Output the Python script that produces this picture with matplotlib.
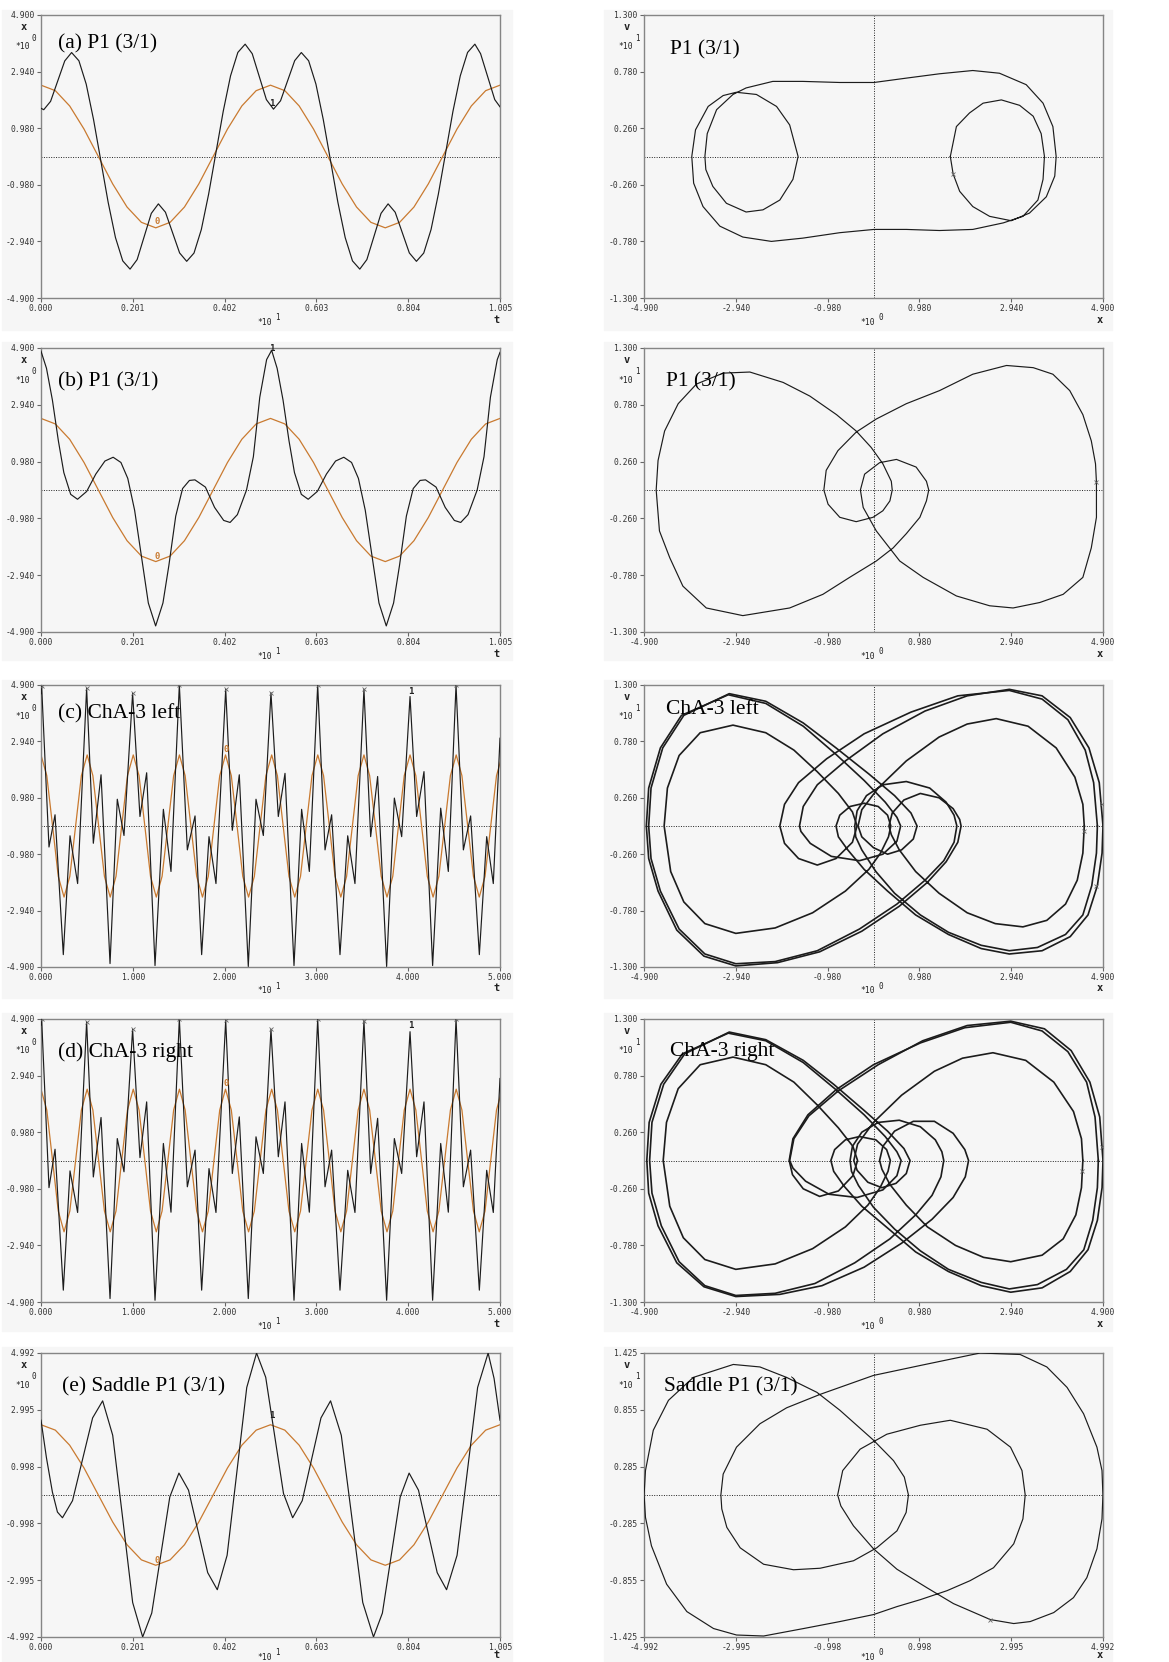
import numpy as np
import matplotlib
matplotlib.use('Agg')
import matplotlib.pyplot as plt
from matplotlib.patches import Rectangle

# ---- time series, t in units of 10 ----
ta = [0.000, 0.006, 0.021, 0.0365, 0.052, 0.067, 0.083, 0.099, 0.115, 0.131, 0.147, 0.163, 0.179, 0.195,
      0.2105, 0.226, 0.2415, 0.257, 0.2725, 0.288, 0.3035, 0.319, 0.335, 0.351, 0.367, 0.383, 0.399, 0.415,
      0.431, 0.447, 0.4625, 0.478, 0.4935, 0.509, 0.5245, 0.540, 0.5555, 0.570, 0.586, 0.602, 0.618, 0.634,
      0.650, 0.666, 0.682, 0.698, 0.7135, 0.729, 0.7445, 0.760, 0.7755, 0.791, 0.8065, 0.822, 0.838, 0.854,
      0.870, 0.886, 0.902, 0.918, 0.934, 0.950, 0.9625, 0.978, 0.9935, 1.005]
xa = [1.67, 1.62, 1.91, 2.61, 3.31, 3.60, 3.315, 2.505, 1.283, -0.15, -1.583, -2.805, -3.615, -3.90,
      -3.57, -2.77, -1.97, -1.64, -1.93, -2.635, -3.34, -3.63, -3.344, -2.532, -1.306, 0.13, 1.566, 2.792,
      3.604, 3.89, 3.56, 2.765, 1.97, 1.64, 1.93, 2.625, 3.32, 3.60, 3.315, 2.505, 1.283, -0.15,
      -1.583, -2.805, -3.615, -3.90, -3.57, -2.77, -1.97, -1.64, -1.93, -2.635, -3.34, -3.63, -3.344, -2.532,
      -1.306, 0.13, 1.566, 2.792, 3.604, 3.89, 3.56, 2.765, 1.97, 1.72]

tb = [0.000, 0.012, 0.025, 0.038, 0.050, 0.065, 0.080, 0.100, 0.120, 0.140, 0.158, 0.175, 0.190, 0.205,
      0.220, 0.235, 0.251, 0.267, 0.280, 0.295, 0.310, 0.325, 0.337, 0.360, 0.380, 0.400, 0.414, 0.430,
      0.450, 0.465, 0.479, 0.494, 0.505, 0.517, 0.530, 0.543, 0.555, 0.570, 0.585, 0.605, 0.625, 0.645,
      0.663, 0.680, 0.695, 0.710, 0.725, 0.740, 0.756, 0.772, 0.785, 0.800, 0.815, 0.830, 0.842, 0.865,
      0.885, 0.905, 0.919, 0.935, 0.955, 0.970, 0.984, 0.999, 1.005]
xb = [4.79, 4.2, 3.1, 1.7, 0.6, -0.15, -0.32, -0.05, 0.55, 1.0, 1.13, 0.95, 0.4, -0.7,
      -2.3, -3.9, -4.69, -3.9, -2.6, -0.9, 0.05, 0.33, 0.35, 0.1, -0.6, -1.05, -1.12, -0.85,
      0.0, 1.15, 3.2, 4.5, 4.82, 4.2, 3.1, 1.7, 0.6, -0.15, -0.32, -0.05, 0.55, 1.0,
      1.13, 0.95, 0.4, -0.7, -2.3, -3.9, -4.69, -3.9, -2.6, -0.9, 0.05, 0.33, 0.35, 0.1,
      -0.6, -1.05, -1.12, -0.85, 0.0, 1.15, 3.2, 4.5, 4.75]

t_cha = [0.000, 0.007, 0.087, 0.153, 0.243, 0.316, 0.399, 0.497, 0.570, 0.654, 0.752, 0.831, 0.904, 0.998,
         1.078, 1.151, 1.242, 1.333, 1.416, 1.507, 1.594, 1.678, 1.750, 1.830, 1.906, 2.012, 2.084, 2.160,
         2.258, 2.342, 2.422, 2.505, 2.585, 2.658, 2.756, 2.839, 2.923, 3.014, 3.094, 3.166, 3.257, 3.341,
         3.420, 3.518, 3.591, 3.667, 3.765, 3.849, 3.929, 4.020, 4.092, 4.172, 4.266, 4.354, 4.437, 4.521,
         4.601, 4.680, 4.775, 4.855, 4.927, 5.000]
xc = [4.6, 4.85, -0.73, 0.39, -4.47, -0.34, -2.0, 4.78, -0.6, 1.78, -4.78, 0.93, -0.33, 4.61,
      0.33, 1.85, -4.85, 0.58, -1.58, 4.9, -0.83, 0.35, -4.47, -0.37, -2.0, 4.75, -0.15, 1.78,
      -4.88, 0.93, -0.33, 4.63, 0.33, 1.83, -4.85, 0.58, -1.58, 4.9, -0.83, 0.39, -4.47, -0.34,
      -2.0, 4.75, -0.37, 1.72, -4.88, 0.97, -0.37, 4.5, 0.33, 1.89, -4.85, 0.62, -1.58, 4.9,
      -0.83, 0.35, -4.47, -0.37, -2.0, 3.05]
xd = [4.7, 4.9, -0.94, 0.39, -4.49, -0.36, -1.8, 4.8, -0.57, 1.49, -4.78, 0.76, -0.39, 4.54,
      0.1, 2.03, -4.84, 0.59, -1.79, 4.9, -0.91, 0.36, -4.49, -0.28, -1.8, 4.85, -0.45, 1.51,
      -4.78, 0.82, -0.45, 4.54, 0.13, 2.03, -4.84, 0.59, -1.79, 4.9, -0.91, 0.36, -4.49, -0.34,
      -1.8, 4.84, -0.45, 1.46, -4.84, 0.76, -0.45, 4.46, 0.13, 2.03, -4.84, 0.59, -1.79, 4.9,
      -0.91, 0.36, -4.49, -0.34, -1.8, 2.84]

te = [0.000, 0.012, 0.025, 0.036, 0.047, 0.069, 0.091, 0.113, 0.135, 0.157, 0.179, 0.2007, 0.2226,
      0.2425, 0.2623, 0.282, 0.302, 0.323, 0.344, 0.365, 0.386, 0.4075, 0.429, 0.4505, 0.472, 0.492,
      0.5115, 0.531, 0.551, 0.572, 0.5925, 0.613, 0.634, 0.6575, 0.681, 0.7045, 0.728, 0.7475, 0.767,
      0.7865, 0.806, 0.8265, 0.847, 0.8675, 0.888, 0.911, 0.9335, 0.956, 0.979, 0.992, 1.005]
xe = [2.63, 1.3, 0.1, -0.6, -0.80, -0.20, 1.255, 2.71, 3.31, 2.10, -0.84, -3.78, -4.99,
      -4.15, -2.11, -0.07, 0.77, 0.17, -1.28, -2.73, -3.33, -2.12, 0.83, 3.78, 4.99, 4.14,
      2.095, 0.05, -0.80, -0.20, 1.255, 2.71, 3.31, 2.10, -0.84, -3.78, -4.99, -4.15, -2.11,
      -0.07, 0.77, 0.17, -1.28, -2.73, -3.33, -2.12, 0.83, 3.78, 4.99, 4.1, 2.63]

# forcing (orange), one window of two periods and one of ten periods
t_frc2 = [0.0000, 0.0314, 0.0628, 0.0942, 0.1256, 0.1570, 0.1884, 0.2198, 0.2513, 0.2827, 0.3141,
          0.3455, 0.3769, 0.4083, 0.4397, 0.4711, 0.5025, 0.5339, 0.5653, 0.5967, 0.6281, 0.6595,
          0.6909, 0.7223, 0.7538, 0.7852, 0.8166, 0.8480, 0.8794, 0.9108, 0.9422, 0.9736, 1.0050]
f_frc2 = [2.47, 2.28, 1.75, 0.95, 0.0, -0.95, -1.75, -2.28, -2.47, -2.28, -1.75,
          -0.95, 0.0, 0.95, 1.75, 2.28, 2.47, 2.28, 1.75, 0.95, 0.0, -0.95,
          -1.75, -2.28, -2.47, -2.28, -1.75, -0.95, 0.0, 0.95, 1.75, 2.28, 2.47]
t_frc10 = [0.000, 0.063, 0.126, 0.188, 0.251, 0.314, 0.377, 0.440, 0.503, 0.565, 0.628, 0.691,
           0.754, 0.817, 0.879, 0.942, 1.005, 1.068, 1.131, 1.193, 1.256, 1.319, 1.382, 1.445,
           1.508, 1.570, 1.633, 1.696, 1.759, 1.822, 1.884, 1.947, 2.010, 2.073, 2.136, 2.198,
           2.261, 2.324, 2.387, 2.450, 2.513, 2.575, 2.638, 2.701, 2.764, 2.827, 2.889, 2.952,
           3.015, 3.078, 3.141, 3.203, 3.266, 3.329, 3.392, 3.455, 3.518, 3.580, 3.643, 3.706,
           3.769, 3.832, 3.894, 3.957, 4.020, 4.083, 4.146, 4.208, 4.271, 4.334, 4.397, 4.460,
           4.523, 4.585, 4.648, 4.711, 4.774, 4.837, 4.899, 4.962, 5.025]
f_frc10 = [2.47, 1.75, 0.0, -1.75, -2.47, -1.75, 0.0, 1.75,
           2.47, 1.75, 0.0, -1.75, -2.47, -1.75, 0.0, 1.75,
           2.47, 1.75, 0.0, -1.75, -2.47, -1.75, 0.0, 1.75,
           2.47, 1.75, 0.0, -1.75, -2.47, -1.75, 0.0, 1.75,
           2.47, 1.75, 0.0, -1.75, -2.47, -1.75, 0.0, 1.75,
           2.47, 1.75, 0.0, -1.75, -2.47, -1.75, 0.0, 1.75,
           2.47, 1.75, 0.0, -1.75, -2.47, -1.75, 0.0, 1.75,
           2.47, 1.75, 0.0, -1.75, -2.47, -1.75, 0.0, 1.75,
           2.47, 1.75, 0.0, -1.75, -2.47, -1.75, 0.0, 1.75,
           2.47, 1.75, 0.0, -1.75, -2.47, -1.75, 0.0, 1.75,
           2.47]

# ---- phase portraits (x, v), v in units of 10 ----
pa = [(1.64, 0.0), (1.77, 0.275), (2.05, 0.40), (2.34, 0.49), (2.73, 0.52), (3.12, 0.47), (3.41, 0.37),
      (3.58, 0.21), (3.65, 0.0), (3.62, -0.21), (3.51, -0.40), (3.19, -0.55), (2.77, -0.61), (2.12, -0.67),
      (1.41, -0.68), (0.70, -0.67), (0.01, -0.67), (-0.72, -0.70), (-1.51, -0.75), (-2.18, -0.78),
      (-2.79, -0.74), (-3.28, -0.64), (-3.64, -0.46), (-3.84, -0.245), (-3.88, 0.0), (-3.80, 0.245),
      (-3.53, 0.46), (-3.21, 0.56), (-2.93, 0.59), (-2.50, 0.57), (-2.07, 0.46), (-1.79, 0.29), (-1.61, 0.0),
      (-1.72, -0.21), (-2.00, -0.40), (-2.36, -0.49), (-2.72, -0.51), (-3.14, -0.43), (-3.43, -0.275),
      (-3.58, -0.12), (-3.60, 0.0), (-3.55, 0.21), (-3.35, 0.43), (-3.00, 0.57), (-2.72, 0.63), (-2.15, 0.69),
      (-1.51, 0.69), (-0.72, 0.68), (0.01, 0.68), (0.70, 0.72), (1.41, 0.76), (2.12, 0.79), (2.69, 0.765),
      (3.26, 0.66), (3.62, 0.49), (3.83, 0.275), (3.90, 0.0), (3.87, -0.18), (3.69, -0.37), (3.33, -0.52),
      (2.94, -0.59), (2.48, -0.55), (2.12, -0.46), (1.84, -0.32), (1.70, -0.16), (1.64, 0.0)]

pb = [(4.76, 0.07), (4.76, -0.25), (4.65, -0.53), (4.47, -0.80), (4.05, -0.955), (3.55, -1.03), (2.98, -1.08),
      (2.48, -1.06), (1.77, -0.97), (1.06, -0.80), (0.56, -0.65), (0.06, -0.375), (-0.22, -0.16), (-0.28, 0.0),
      (-0.19, 0.145), (0.13, 0.25), (0.49, 0.28), (0.91, 0.21), (1.13, 0.08), (1.18, 0.0), (1.13, -0.10),
      (0.99, -0.25), (0.70, -0.40), (0.42, -0.53), (0.06, -0.65), (-0.51, -0.80), (-1.08, -0.955),
      (-1.79, -1.08), (-2.79, -1.15), (-3.57, -1.08), (-4.07, -0.88), (-4.35, -0.62), (-4.57, -0.375),
      (-4.64, 0.0), (-4.60, 0.27), (-4.46, 0.54), (-4.17, 0.79), (-3.78, 0.97), (-3.21, 1.07), (-2.64, 1.08),
      (-1.93, 0.985), (-1.36, 0.86), (-0.79, 0.69), (-0.37, 0.54), (-0.05, 0.39), (0.20, 0.24), (0.38, 0.08),
      (0.40, 0.0), (0.35, -0.10), (0.20, -0.19), (-0.01, -0.25), (-0.37, -0.29), (-0.72, -0.25), (-0.97, -0.13),
      (-1.06, 0.0), (-1.01, 0.18), (-0.76, 0.36), (-0.37, 0.53), (0.06, 0.65), (0.70, 0.79), (1.41, 0.91),
      (2.12, 1.06), (2.84, 1.14), (3.41, 1.12), (3.83, 1.06), (4.19, 0.91), (4.47, 0.69), (4.65, 0.45),
      (4.74, 0.24), (4.76, 0.07)]

# ChA-3 left: three recurring loops of one forcing period each
pc_loops = [
    [(4.9, 0.0), (4.88, -0.25), (4.78, -0.55), (4.58, -0.82), (4.2, -1.02), (3.6, -1.15), (2.9, -1.18),
     (2.3, -1.13), (1.6, -1.0), (0.9, -0.82), (0.3, -0.6), (-0.2, -0.40), (-0.55, -0.22), (-0.75, -0.1),
     (-0.80, 0.0), (-0.72, 0.1), (-0.5, 0.18), (-0.2, 0.21), (0.1, 0.18), (0.3, 0.1), (0.37, 0.0),
     (0.32, -0.1), (0.15, -0.25), (-0.1, -0.40), (-0.6, -0.60), (-1.3, -0.80), (-2.1, -0.94), (-2.94, -0.99),
     (-3.6, -0.90), (-4.05, -0.70), (-4.33, -0.42), (-4.47, 0.0), (-4.4, 0.35), (-4.15, 0.65), (-3.7, 0.86),
     (-3.0, 0.93), (-2.3, 0.86), (-1.7, 0.7), (-1.2, 0.5), (-0.75, 0.3), (-0.45, 0.13), (-0.35, 0.0),
     (-0.45, -0.15), (-0.8, -0.3), (-1.2, -0.36), (-1.6, -0.3), (-1.9, -0.16), (-2.0, 0.0), (-1.9, 0.2),
     (-1.6, 0.4), (-1.0, 0.62), (-0.2, 0.85), (0.8, 1.05), (1.8, 1.2), (2.9, 1.25), (3.6, 1.17), (4.15, 0.98),
     (4.52, 0.7), (4.7, 0.4), (4.78, 0.0)],
    [(4.78, 0.0), (4.76, -0.25), (4.66, -0.55), (4.47, -0.82), (4.1, -1.0), (3.5, -1.12), (2.9, -1.15),
     (2.3, -1.1), (1.6, -0.98), (1.0, -0.82), (0.45, -0.62), (0.05, -0.42), (-0.25, -0.22), (-0.38, -0.1),
     (-0.40, 0.0), (-0.35, 0.14), (-0.15, 0.28), (0.2, 0.38), (0.7, 0.41), (1.2, 0.35), (1.55, 0.22),
     (1.72, 0.1), (1.78, 0.0), (1.72, -0.15), (1.5, -0.32), (1.1, -0.5), (0.5, -0.72), (-0.3, -0.95),
     (-1.2, -1.15), (-2.1, -1.25), (-2.94, -1.27), (-3.6, -1.18), (-4.15, -0.95), (-4.55, -0.6), (-4.75, -0.3),
     (-4.8, 0.0), (-4.75, 0.35), (-4.5, 0.72), (-4.05, 1.02), (-3.08, 1.22), (-2.3, 1.15), (-1.5, 0.95),
     (-0.8, 0.72), (-0.1, 0.48), (0.45, 0.28), (0.8, 0.12), (0.93, 0.0), (0.85, -0.12), (0.6, -0.22),
     (0.3, -0.26), (0.0, -0.2), (-0.25, -0.1), (-0.33, 0.0), (-0.25, 0.15), (0.1, 0.35), (0.7, 0.6),
     (1.4, 0.82), (2.0, 0.94), (2.62, 0.99), (3.3, 0.92), (3.9, 0.72), (4.3, 0.45), (4.47, 0.2), (4.5, 0.0)],
    [(4.5, 0.0), (4.47, -0.25), (4.35, -0.5), (4.1, -0.72), (3.7, -0.87), (3.19, -0.93), (2.6, -0.9),
     (2.0, -0.8), (1.4, -0.62), (0.9, -0.42), (0.55, -0.22), (0.38, -0.08), (0.33, 0.0), (0.4, 0.12),
     (0.65, 0.24), (1.0, 0.3), (1.4, 0.26), (1.7, 0.16), (1.84, 0.06), (1.87, 0.0), (1.8, -0.15),
     (1.55, -0.33), (1.15, -0.52), (0.55, -0.74), (-0.25, -0.97), (-1.15, -1.16), (-2.05, -1.26),
     (-2.94, -1.29), (-3.62, -1.2), (-4.2, -0.96), (-4.6, -0.6), (-4.8, -0.3), (-4.85, 0.0), (-4.8, 0.35),
     (-4.55, 0.72), (-4.1, 1.02), (-3.1, 1.21), (-2.3, 1.13), (-1.5, 0.92), (-0.8, 0.66), (-0.2, 0.42),
     (0.25, 0.22), (0.5, 0.08), (0.58, 0.0), (0.5, -0.14), (0.2, -0.26), (-0.3, -0.32), (-0.9, -0.28),
     (-1.35, -0.16), (-1.55, -0.05), (-1.58, 0.0), (-1.5, 0.18), (-1.2, 0.38), (-0.6, 0.6), (0.2, 0.85),
     (1.1, 1.06), (2.0, 1.2), (2.9, 1.26), (3.6, 1.2), (4.2, 1.0), (4.6, 0.72), (4.82, 0.4), (4.9, 0.0)],
]

# ChA-3 right
pd_loops = [
    [(4.9, 0.0), (4.88, -0.25), (4.78, -0.55), (4.58, -0.82), (4.2, -1.02), (3.6, -1.17), (2.93, -1.21),
     (2.3, -1.15), (1.6, -1.02), (0.9, -0.84), (0.3, -0.62), (-0.25, -0.42), (-0.62, -0.24), (-0.85, -0.1),
     (-0.91, 0.0), (-0.83, 0.1), (-0.6, 0.19), (-0.3, 0.22), (0.05, 0.19), (0.28, 0.1), (0.36, 0.0),
     (0.31, -0.1), (0.14, -0.25), (-0.12, -0.41), (-0.6, -0.61), (-1.3, -0.81), (-2.1, -0.95), (-2.94, -1.0),
     (-3.6, -0.91), (-4.06, -0.71), (-4.35, -0.42), (-4.49, 0.0), (-4.42, 0.35), (-4.17, 0.66), (-3.7, 0.88),
     (-3.0, 0.95), (-2.3, 0.88), (-1.7, 0.72), (-1.2, 0.51), (-0.75, 0.3), (-0.44, 0.13), (-0.34, 0.0),
     (-0.44, -0.14), (-0.75, -0.28), (-1.15, -0.33), (-1.5, -0.26), (-1.73, -0.13), (-1.8, 0.0), (-1.72, 0.2),
     (-1.4, 0.42), (-0.8, 0.65), (0.0, 0.88), (1.0, 1.08), (1.95, 1.22), (2.93, 1.27), (3.6, 1.19), (4.15, 1.0),
     (4.55, 0.72), (4.73, 0.4), (4.8, 0.0)],
    [(4.8, 0.0), (4.78, -0.25), (4.68, -0.55), (4.49, -0.82), (4.12, -1.0), (3.5, -1.14), (2.9, -1.18),
     (2.3, -1.12), (1.6, -1.0), (1.0, -0.83), (0.45, -0.63), (0.0, -0.43), (-0.32, -0.23), (-0.47, -0.1),
     (-0.5, 0.0), (-0.45, 0.13), (-0.25, 0.26), (0.1, 0.35), (0.55, 0.37), (1.0, 0.31), (1.32, 0.19),
     (1.46, 0.08), (1.5, 0.0), (1.44, -0.15), (1.25, -0.32), (0.9, -0.5), (0.35, -0.72), (-0.4, -0.94),
     (-1.25, -1.13), (-2.1, -1.22), (-2.94, -1.24), (-3.6, -1.15), (-4.15, -0.93), (-4.53, -0.6), (-4.73, -0.3),
     (-4.78, 0.0), (-4.73, 0.35), (-4.48, 0.7), (-4.03, 0.98), (-3.08, 1.18), (-2.3, 1.11), (-1.5, 0.92),
     (-0.85, 0.7), (-0.2, 0.46), (0.3, 0.27), (0.65, 0.11), (0.78, 0.0), (0.7, -0.12), (0.48, -0.21),
     (0.18, -0.25), (-0.12, -0.2), (-0.35, -0.09), (-0.42, 0.0), (-0.34, 0.15), (0.0, 0.35), (0.6, 0.6),
     (1.3, 0.82), (1.9, 0.94), (2.55, 0.99), (3.25, 0.92), (3.85, 0.72), (4.27, 0.45), (4.44, 0.2), (4.47, 0.0)],
    [(4.47, 0.0), (4.44, -0.25), (4.32, -0.5), (4.05, -0.72), (3.6, -0.87), (2.93, -0.93), (2.35, -0.89),
     (1.75, -0.78), (1.15, -0.61), (0.7, -0.41), (0.35, -0.22), (0.18, -0.08), (0.13, 0.0), (0.2, 0.13),
     (0.45, 0.27), (0.85, 0.36), (1.3, 0.36), (1.7, 0.25), (1.95, 0.1), (2.03, 0.0), (1.96, -0.15),
     (1.7, -0.34), (1.25, -0.54), (0.6, -0.76), (-0.2, -0.98), (-1.1, -1.15), (-2.0, -1.23), (-2.94, -1.25),
     (-3.62, -1.16), (-4.2, -0.94), (-4.6, -0.6), (-4.8, -0.3), (-4.84, 0.0), (-4.79, 0.35), (-4.54, 0.7),
     (-4.08, 0.98), (-3.1, 1.17), (-2.3, 1.1), (-1.5, 0.9), (-0.8, 0.65), (-0.2, 0.42), (0.25, 0.22),
     (0.5, 0.08), (0.59, 0.0), (0.5, -0.14), (0.2, -0.27), (-0.35, -0.34), (-0.95, -0.31), (-1.45, -0.19),
     (-1.72, -0.07), (-1.79, 0.0), (-1.7, 0.2), (-1.38, 0.41), (-0.75, 0.64), (0.1, 0.88), (1.05, 1.1),
     (2.0, 1.24), (2.93, 1.28), (3.65, 1.21), (4.22, 1.01), (4.62, 0.72), (4.83, 0.4), (4.9, 0.0)],
]

pe = [(2.54, -1.25), (1.74, -1.09), (1.16, -0.93), (0.51, -0.745), (0.0, -0.54), (-0.435, -0.31), (-0.71, -0.11),
      (-0.78, 0.0), (-0.67, 0.245), (-0.29, 0.46), (0.29, 0.61), (1.02, 0.70), (1.67, 0.75), (2.47, 0.66),
      (2.98, 0.48), (3.23, 0.245), (3.30, 0.0), (3.25, -0.24), (3.05, -0.49), (2.61, -0.73), (2.10, -0.86),
      (1.60, -0.96), (1.02, -1.05), (0.51, -1.12), (0.0, -1.20), (-0.73, -1.27), (-1.52, -1.34), (-2.39, -1.415),
      (-2.98, -1.405), (-3.48, -1.34), (-4.06, -1.17), (-4.50, -0.895), (-4.83, -0.51), (-4.96, -0.225),
      (-4.99, 0.0), (-4.96, 0.245), (-4.79, 0.65), (-4.46, 0.95), (-3.92, 1.18), (-3.05, 1.31), (-2.47, 1.285),
      (-1.89, 1.18), (-1.23, 1.03), (-0.73, 0.85), (0.0, 0.55), (0.435, 0.345), (0.67, 0.18), (0.76, 0.0),
      (0.71, -0.175), (0.51, -0.36), (0.07, -0.53), (-0.435, -0.66), (-1.16, -0.735), (-1.74, -0.75),
      (-2.39, -0.695), (-2.90, -0.53), (-3.19, -0.325), (-3.30, -0.14), (-3.32, 0.0), (-3.27, 0.21),
      (-2.98, 0.48), (-2.47, 0.715), (-1.89, 0.875), (-1.16, 1.01), (0.0, 1.20), (1.02, 1.30), (2.32, 1.425),
      (3.19, 1.41), (3.77, 1.285), (4.21, 1.08), (4.57, 0.815), (4.86, 0.48), (4.97, 0.245), (4.99, 0.0),
      (4.97, -0.24), (4.86, -0.54), (4.64, -0.83), (4.35, -1.03), (3.92, -1.18), (3.41, -1.27), (3.05, -1.29),
      (2.54, -1.25)]

# axis ranges / ticks
x_ticks = [-4.9, -2.94, -0.98, 0.98, 2.94, 4.9]
v_ticks = [-1.3, -0.78, -0.26, 0.26, 0.78, 1.3]
xe_ticks = [-4.992, -2.995, -0.998, 0.998, 2.995, 4.992]
ve_ticks = [-1.425, -0.855, -0.285, 0.285, 0.855, 1.425]
t_ticks1 = [0.0, 0.201, 0.402, 0.603, 0.804, 1.005]
t_ticks5 = [0.0, 1.0, 2.0, 3.0, 4.0, 5.0]

left_titles = ['(a) P1 (3/1)', '(b) P1 (3/1)', '(c) ChA-3 left', '(d) ChA-3 right', '(e) Saddle P1 (3/1)']
right_titles = ['P1 (3/1)', 'P1 (3/1)', 'ChA-3 left', 'ChA-3 right', 'Saddle P1 (3/1)']

BLK = '#1c1c1c'
ORG = '#c97a30'
BG = '#f6f6f6'
MONO = 'DejaVu Sans Mono'
SERIF = 'Liberation Serif'

W, H = 1169, 1662
fig = plt.figure(figsize=(W / 100, H / 100), dpi=100)
fig.patch.set_facecolor('white')

row_px = [(15, 298), (348, 632), (685, 967), (1019, 1302), (1353, 1637)]
bg_px = [(10, 330), (342, 660), (680, 998), (1013, 1331), (1347, 1662)]
for (y0, y1) in bg_px:
    fig.patches.append(Rectangle((2 / W, 1 - y1 / H), 510 / W, (y1 - y0) / H,
                                 transform=fig.transFigure, color=BG, zorder=-10))
    fig.patches.append(Rectangle((604 / W, 1 - y1 / H), 508 / W, (y1 - y0) / H,
                                 transform=fig.transFigure, color=BG, zorder=-10))


def style(ax, xt, yt, top_lab, bot_lab, sup_left, sup_bot, yb=-0.085):
    ax.set_facecolor(BG)
    ax.set_xlim(xt[0], xt[-1])
    ax.set_ylim(min(yt), max(yt))
    ax.set_xticks(xt)
    ax.set_xticklabels(['%.3f' % v for v in xt], family=MONO)
    ax.set_yticks(yt)
    ax.set_yticklabels(['%.3f' % v for v in yt], family=MONO)
    ax.tick_params(direction='out', length=3, width=0.8, color='#666', labelcolor='#333',
                   labelsize=5.8, pad=1.5)
    for s in ax.spines.values():
        s.set_color('#858585')
        s.set_linewidth(1.0)
    kw = dict(transform=ax.transAxes, family=MONO, color='#222', clip_on=False)
    ax.text(-0.037, 0.958, top_lab, fontsize=7.5, fontweight='bold', ha='center', va='center', **kw)
    ax.text(-0.040, 0.887, '*10', fontsize=5.8, ha='center', va='center', **kw)
    ax.text(-0.015, 0.917, sup_left, fontsize=5.5, ha='center', va='center', **kw)
    ax.text(0.487, yb, '*10', fontsize=5.8, ha='center', va='center', **kw)
    ax.text(0.516, yb + 0.016, sup_bot, fontsize=5.5, ha='center', va='center', **kw)
    ax.text(0.993, yb + 0.009, bot_lab, fontsize=7.5, fontweight='bold', ha='center', va='center', **kw)


def dotted(ax, vert=False):
    ax.axhline(0, color='#222', lw=0.7, ls=(0, (1, 1.5)), zorder=1)
    if vert:
        ax.axvline(0, color='#222', lw=0.7, ls=(0, (1, 1.5)), zorder=1)


left_data = [(ta, xa, t_frc2, f_frc2, t_ticks1), (tb, xb, t_frc2, f_frc2, t_ticks1),
             (t_cha, xc, t_frc10, f_frc10, t_ticks5), (t_cha, xd, t_frc10, f_frc10, t_ticks5),
             (te, xe, t_frc2, f_frc2, t_ticks1)]
left_title_pos = [(0.037, 0.883), (0.037, 0.865), (0.037, 0.883), (0.037, 0.866), (0.046, 0.866)]
right_title_pos = [(0.057, 0.859), (0.048, 0.865), (0.048, 0.897), (0.057, 0.870), (0.044, 0.866)]
# labels "1" (black) and "0" (forcing) on the time series
lab1 = [(0.505, 1.85), (0.505, 4.87), (4.027, 4.68), (4.027, 4.69), (0.505, 2.80)]
lab0 = [(0.254, -2.25), (0.254, -2.28), (2.018, 2.65), (2.022, 2.65), (0.254, -2.30)]
# small x marks on phase portraits
xmarks = [[(1.70, -0.16)], [(4.76, 0.07)], [(4.5, -0.05), (4.87, 0.2), (4.75, -0.55)],
          [(4.45, -0.10), (4.87, 0.12)], [(2.54, -1.25)]]

for i in range(5):
    y0, y1 = row_px[i]
    b = 1 - y1 / H
    h = (y1 - y0) / H
    yb = -0.072 if i == 4 else -0.085
    axl = fig.add_axes([41 / W, b, 459 / W, h])
    axr = fig.add_axes([644 / W, b, 459 / W, h])

    t, x, tf, ff, tt = left_data[i]
    yl = [-4.992, -2.995, -0.998, 0.998, 2.995, 4.992] if i == 4 else x_ticks
    style(axl, tt, yl, 'x', 't', '0', '1', yb)
    dotted(axl)
    axl.plot(tf, ff, color=ORG, lw=0.9, zorder=2)
    axl.plot(t, x, color=BLK, lw=0.85, zorder=3)
    if i in (2, 3):
        spikes_t = [t[k] for k in range(1, 56, 6) if k != 49]
        spikes_x = [x[k] for k in range(1, 56, 6) if k != 49]
        axl.plot(spikes_t, spikes_x, ls='none', marker='x', ms=3, mew=0.6, color='#666', zorder=4)
    axl.text(lab1[i][0], lab1[i][1], '1', fontsize=6.5, fontweight='bold', family=MONO,
             color='#222', ha='center', va='center', zorder=5, clip_on=False)
    axl.text(lab0[i][0], lab0[i][1], '0', fontsize=6.5, fontweight='bold', family=MONO,
             color=ORG, ha='center', va='center', zorder=5)
    axl.text(left_title_pos[i][0], left_title_pos[i][1], left_titles[i], transform=axl.transAxes,
             family=SERIF, fontsize=15.5, va='baseline', ha='left', zorder=6)

    if i == 4:
        style(axr, xe_ticks, ve_ticks, 'v', 'x', '1', '0', yb)
    else:
        style(axr, x_ticks, v_ticks, 'v', 'x', '1', '0', yb)
    dotted(axr, vert=True)
    if i == 2 or i == 3:
        loops = pc_loops if i == 2 else pd_loops
        for lp in loops:
            p = np.array(lp)
            axr.plot(p[:, 0], p[:, 1], color=BLK, lw=1.2, zorder=3)
    else:
        p = np.array([pa, pb, None, None, pe][i])
        axr.plot(p[:, 0], p[:, 1], color=BLK, lw=0.85, zorder=3)
    m = np.array(xmarks[i])
    axr.plot(m[:, 0], m[:, 1], ls='none', marker='x', ms=3, mew=0.6, color='#666', zorder=4)
    axr.text(right_title_pos[i][0], right_title_pos[i][1], right_titles[i], transform=axr.transAxes,
             family=SERIF, fontsize=15.5, va='baseline', ha='left', zorder=6)

fig.savefig('out.png', dpi=100, facecolor='white')
